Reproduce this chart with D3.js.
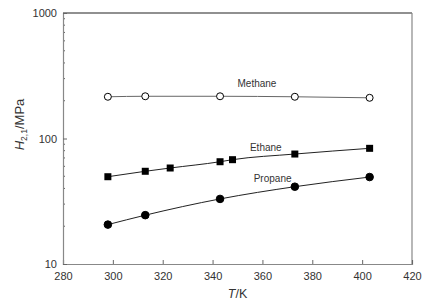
<!DOCTYPE html>
<html>
<head>
<meta charset="utf-8">
<script src="https://cdn.jsdelivr.net/npm/d3@7"></script>
<style>
  body { margin: 0; background: #fff; }
  svg { font-family: "Liberation Sans", Arial, sans-serif; }
</style>
</head>
<body>
<div class="container"></div>
<script>
// chart size and plot margins
const width = 431;
const height = 306;
const margin = { top: 13, right: 19, bottom: 42, left: 63 };

// data
const methaneT = [298, 313, 343, 373, 403];
const methaneH = [215, 217, 217, 215, 211];
const ethaneT = [298, 313, 323, 343, 348, 373, 403];
const ethaneH = [49.6, 54.8, 58.2, 65.3, 67.8, 75.2, 83.5];
const propaneT = [298, 313, 343, 373, 403];
const propaneH = [20.6, 24.5, 33.0, 41.3, 49.3];
const xTicks = [280, 300, 320, 340, 360, 380, 400, 420];
const yTicks = [10, 100, 1000];

const svg = d3.select(".container")
  .append("svg")
  .attr("width", width)
  .attr("height", height);

const xScale = d3.scaleLinear()
  .domain([280, 420])
  .range([margin.left, width - margin.right]);

const yScale = d3.scaleLog()
  .domain([10, 1000])
  .range([height - margin.bottom, margin.top]);

const x0 = margin.left, x1 = width - margin.right;
const y0 = height - margin.bottom, y1 = margin.top;

// top and right frame lines
svg.append("line").attr("x1", x0).attr("x2", x1).attr("y1", y1).attr("y2", y1)
  .attr("stroke", "#222").attr("stroke-width", 1.2);
svg.append("line").attr("x1", x1).attr("x2", x1).attr("y1", y1).attr("y2", y0)
  .attr("stroke", "#888").attr("stroke-width", 1.2);

// bottom axis, ticks pointing inward
const xAxis = svg.append("g")
  .attr("transform", `translate(0, ${y0})`)
  .call(d3.axisBottom(xScale).tickValues(xTicks).tickSize(-4).tickPadding(8).tickFormat(d3.format("d")));
xAxis.select(".domain").attr("stroke", "#888").attr("stroke-width", 1.2);
xAxis.selectAll(".tick line").attr("stroke", "#666");
xAxis.selectAll("text").attr("font-size", "11px").attr("fill", "#333");

// minor ticks on the log axis
const minorVals = [];
[10, 100].forEach(b => { for (let k = 2; k <= 9; k++) minorVals.push(b * k); });
svg.append("g").selectAll("line")
  .data(minorVals)
  .join("line")
  .attr("x1", x0).attr("x2", x0 + 2)
  .attr("y1", d => yScale(d)).attr("y2", d => yScale(d))
  .attr("stroke", "#666");

// left axis
const yAxis = svg.append("g")
  .attr("transform", `translate(${x0}, 0)`)
  .call(d3.axisLeft(yScale).tickValues(yTicks).tickSize(-4).tickPadding(6).tickFormat(d3.format("d")));
yAxis.select(".domain").attr("stroke", "#888").attr("stroke-width", 1.2);
yAxis.selectAll(".tick line").attr("stroke", "#666");
yAxis.selectAll("text").attr("font-size", "11px").attr("fill", "#333");

// series lines and markers
const line = d3.line()
  .x(d => xScale(d[0]))
  .y(d => yScale(d[1]))
  .curve(d3.curveMonotoneX);

function drawSeries(ts, hs, shape) {
  const pts = ts.map((t, i) => [t, hs[i]]);
  svg.append("path")
    .datum(pts)
    .attr("d", line)
    .attr("fill", "none")
    .attr("stroke", shape === "open" ? "#666" : "#222")
    .attr("stroke-width", 1);
  const g = svg.append("g");
  if (shape === "square") {
    g.selectAll("rect").data(pts).join("rect")
      .attr("x", d => xScale(d[0]) - 3.5)
      .attr("y", d => yScale(d[1]) - 3.5)
      .attr("width", 7).attr("height", 7)
      .attr("fill", "#000");
  } else {
    g.selectAll("circle").data(pts).join("circle")
      .attr("cx", d => xScale(d[0]))
      .attr("cy", d => yScale(d[1]))
      .attr("r", shape === "open" ? 3.5 : 3.8)
      .attr("fill", shape === "open" ? "#fff" : "#000")
      .attr("stroke", "#000")
      .attr("stroke-width", 1);
  }
}

drawSeries(methaneT, methaneH, "open");
drawSeries(ethaneT, ethaneH, "square");
drawSeries(propaneT, propaneH, "filled");

// series names
const labels = [
  { name: "Methane", t: 350, h: 257 },
  { name: "Ethane", t: 355, h: 79.5 },
  { name: "Propane", t: 356.5, h: 45 }
];
svg.append("g").selectAll("text")
  .data(labels)
  .join("text")
  .attr("x", d => xScale(d.t))
  .attr("y", d => yScale(d.h))
  .attr("font-size", "10px")
  .attr("fill", "#333")
  .text(d => d.name);

// axis titles
const xt = svg.append("text")
  .attr("x", (x0 + x1) / 2)
  .attr("y", height - 8)
  .attr("text-anchor", "middle")
  .attr("font-size", "12.5px")
  .attr("fill", "#333");
xt.append("tspan").attr("font-style", "italic").text("T");
xt.append("tspan").text("/K");

const yt = svg.append("text")
  .attr("transform", `translate(24, ${(y0 + y1) / 2 - 14}) rotate(-90)`)
  .attr("text-anchor", "middle")
  .attr("font-size", "13px")
  .attr("fill", "#333");
yt.append("tspan").attr("font-style", "italic").text("H");
yt.append("tspan").attr("font-size", "8.5px").attr("dy", 3).text("2,1");
yt.append("tspan").attr("dy", -3).text("/MPa");
</script>
</body>
</html>
